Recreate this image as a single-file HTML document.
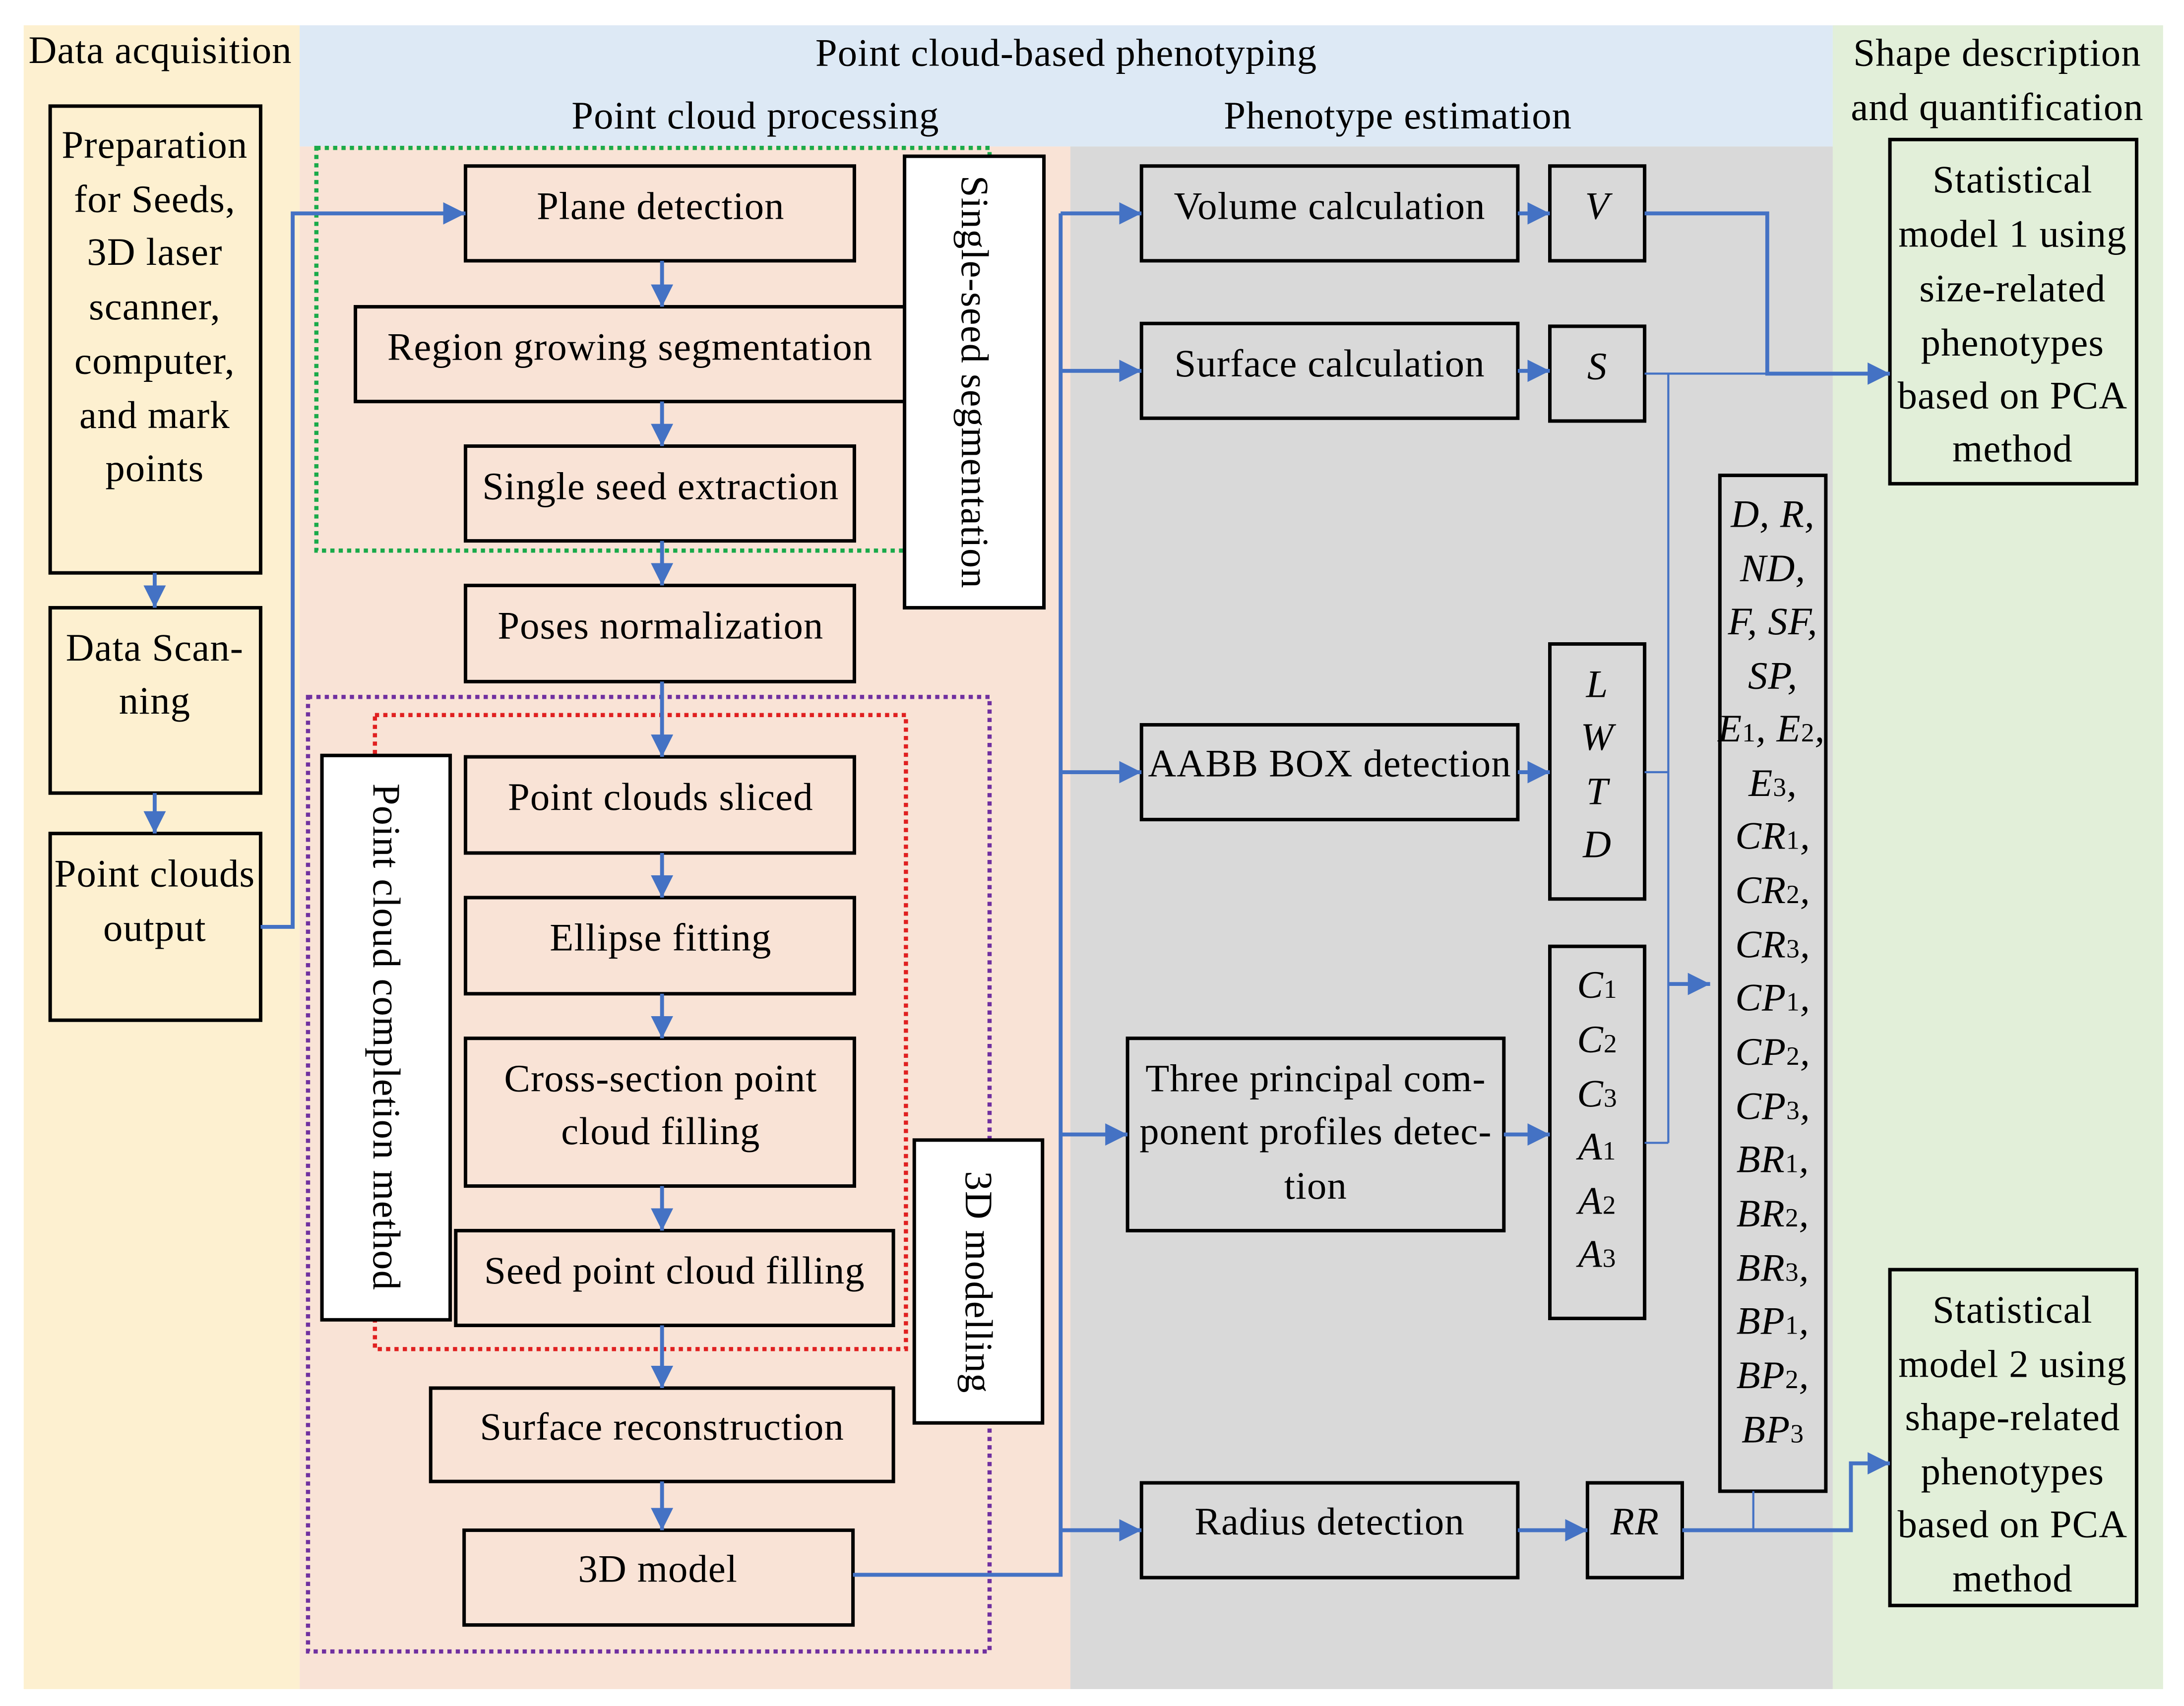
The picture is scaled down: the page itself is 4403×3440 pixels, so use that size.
<!DOCTYPE html>
<html><head><meta charset="utf-8"><style>
html,body{margin:0;padding:0;background:#fff;}
svg{display:block;}
text{font-family:"Liberation Serif",serif;font-size:28px;letter-spacing:0.4px;fill:#000;}
.i{font-style:italic;}
.s{font-style:normal;font-size:19px;}
.b{fill:none;stroke:#000;stroke-width:2.5;}
.bw{fill:#fff;stroke:#000;stroke-width:2.5;}
.l{fill:none;stroke:#4472c4;stroke-width:2.8;}
</style></head><body>
<svg width="4403" height="3440" viewBox="0 0 1567 1224" xmlns="http://www.w3.org/2000/svg">
<defs>
<marker id="m" viewBox="0 0 10 10" refX="10" refY="5" markerWidth="16" markerHeight="16" markerUnits="userSpaceOnUse" orient="auto"><path d="M0,0L10,5L0,10z" fill="#4472c4"/></marker></defs>
<rect width="1567" height="1224" fill="#fff"/>
<rect x="17" y="18" width="198" height="1194" fill="#fdf0d0"/>
<rect x="215" y="18" width="1100" height="87" fill="#dde9f5"/>
<rect x="215" y="105" width="553" height="1107" fill="#f9e3d6"/>
<rect x="768" y="105" width="547" height="1107" fill="#d9d9d9"/>
<rect x="1315" y="18" width="237" height="1194" fill="#e2efd9"/>
<g text-anchor="middle">
<text x="115" y="45">Data acquisition</text>
<text x="765" y="47">Point cloud-based phenotyping</text>
<text x="542" y="92">Point cloud processing</text>
<text x="1003" y="92">Phenotype estimation</text>
<text x="1433" y="47">Shape description</text>
<text x="1433" y="86">and quantification</text>
</g>
<rect x="227" y="106" width="483" height="289" fill="none" stroke="#1aaa4a" stroke-width="3" stroke-dasharray="3,3"/>
<rect x="221" y="500" width="489" height="685" fill="none" stroke="#7030a0" stroke-width="3" stroke-dasharray="3,3"/>
<rect x="269" y="513" width="381" height="455" fill="none" stroke="#e02020" stroke-width="3" stroke-dasharray="3,3"/>
<g>
<rect class="b" x="36" y="76" width="151" height="335"/>
<rect class="b" x="36" y="436" width="151" height="133"/>
<rect class="b" x="36" y="598" width="151" height="134"/>
<rect class="b" x="334" y="119" width="279" height="68"/>
<rect class="b" x="255" y="220" width="395" height="68"/>
<rect class="b" x="334" y="320" width="279" height="68"/>
<rect class="bw" x="649" y="112" width="100" height="324"/>
<rect class="b" x="334" y="420" width="279" height="69"/>
<rect class="bw" x="231" y="542" width="92" height="405"/>
<rect class="b" x="334" y="543" width="279" height="69"/>
<rect class="b" x="334" y="644" width="279" height="69"/>
<rect class="b" x="334" y="745" width="279" height="106"/>
<rect class="b" x="327" y="883" width="314" height="68"/>
<rect class="bw" x="656" y="818" width="92" height="203"/>
<rect class="b" x="309" y="996" width="332" height="67"/>
<rect class="b" x="333" y="1098" width="279" height="68"/>
<rect class="b" x="819" y="119" width="270" height="68"/>
<rect class="b" x="1112" y="119" width="68" height="68"/>
<rect class="b" x="819" y="232" width="270" height="68"/>
<rect class="b" x="1112" y="234" width="68" height="68"/>
<rect class="b" x="819" y="520" width="270" height="68"/>
<rect class="b" x="1112" y="462" width="68" height="183"/>
<rect class="b" x="809" y="745" width="270" height="138"/>
<rect class="b" x="1112" y="679" width="68" height="267"/>
<rect class="b" x="819" y="1064" width="270" height="68"/>
<rect class="b" x="1139" y="1064" width="68" height="68"/>
<rect class="b" x="1234" y="341" width="76" height="729"/>
<rect class="b" x="1356" y="100" width="177" height="247"/>
<rect class="b" x="1356" y="911" width="177" height="241"/>
</g>
<g text-anchor="middle">
<text x="111" y="113">Preparation</text><text x="111" y="152">for Seeds,</text><text x="111" y="190">3D laser</text><text x="111" y="229">scanner,</text><text x="111" y="268">computer,</text><text x="111" y="307">and mark</text><text x="111" y="345">points</text>
<text x="111" y="474">Data Scan-</text><text x="111" y="512">ning</text>
<text x="111" y="636">Point clouds</text><text x="111" y="675">output</text>
<text x="474" y="157">Plane detection</text>
<text x="452" y="258">Region growing segmentation</text>
<text x="474" y="358">Single seed extraction</text>
<text x="474" y="458">Poses normalization</text>
<text x="474" y="581">Point clouds sliced</text>
<text x="474" y="682">Ellipse fitting</text>
<text x="474" y="783">Cross-section point</text><text x="474" y="821">cloud filling</text>
<text x="484" y="921">Seed point cloud filling</text>
<text x="475" y="1033">Surface reconstruction</text>
<text x="472" y="1135">3D model</text>
<text transform="translate(699,274) rotate(90)" y="9">Single-seed segmentation</text>
<text transform="translate(277,744) rotate(90)" y="9">Point cloud completion method</text>
<text transform="translate(702,920) rotate(90)" y="9">3D modelling</text>
<text x="954" y="157">Volume calculation</text>
<text x="954" y="270">Surface calculation</text>
<text x="954" y="557">AABB BOX detection</text>
<text x="944" y="783">Three principal com-</text><text x="944" y="821">ponent profiles detec-</text><text x="944" y="860">tion</text>
<text x="954" y="1101">Radius detection</text>
<text x="1444" y="138">Statistical</text><text x="1444" y="177">model 1 using</text><text x="1444" y="216">size-related</text><text x="1444" y="255">phenotypes</text><text x="1444" y="293">based on PCA</text><text x="1444" y="331">method</text>
<text x="1444" y="949">Statistical</text><text x="1444" y="988">model 2 using</text><text x="1444" y="1026">shape-related</text><text x="1444" y="1065">phenotypes</text><text x="1444" y="1103">based on PCA</text><text x="1444" y="1142">method</text>
</g>
<g text-anchor="middle">
<text class="i" x="1146" y="157">V</text>
<text class="i" x="1146" y="272">S</text>
<text class="i" x="1146" y="500">L</text><text class="i" x="1146" y="538">W</text><text class="i" x="1146" y="577">T</text><text class="i" x="1146" y="615">D</text>
<text class="i" x="1146" y="716">C<tspan class="s">1</tspan></text>
<text class="i" x="1146" y="755">C<tspan class="s">2</tspan></text>
<text class="i" x="1146" y="794">C<tspan class="s">3</tspan></text>
<text class="i" x="1146" y="832">A<tspan class="s">1</tspan></text>
<text class="i" x="1146" y="871">A<tspan class="s">2</tspan></text>
<text class="i" x="1146" y="909">A<tspan class="s">3</tspan></text>
<text class="i" x="1173" y="1101">RR</text>
<text class="i" x="1272" y="378">D, R,</text>
<text class="i" x="1272" y="417">ND,</text>
<text class="i" x="1272" y="455">F, SF,</text>
<text class="i" x="1272" y="494">SP,</text>
<text class="i" x="1271" y="532" letter-spacing="0">E<tspan class="s">1</tspan>, E<tspan class="s">2</tspan>,</text>
<text class="i" x="1272" y="571">E<tspan class="s">3</tspan>,</text>
<text class="i" x="1272" y="609">CR<tspan class="s">1</tspan>,</text>
<text class="i" x="1272" y="648">CR<tspan class="s">2</tspan>,</text>
<text class="i" x="1272" y="687">CR<tspan class="s">3</tspan>,</text>
<text class="i" x="1272" y="725">CP<tspan class="s">1</tspan>,</text>
<text class="i" x="1272" y="764">CP<tspan class="s">2</tspan>,</text>
<text class="i" x="1272" y="803">CP<tspan class="s">3</tspan>,</text>
<text class="i" x="1272" y="841">BR<tspan class="s">1</tspan>,</text>
<text class="i" x="1272" y="880">BR<tspan class="s">2</tspan>,</text>
<text class="i" x="1272" y="919">BR<tspan class="s">3</tspan>,</text>
<text class="i" x="1272" y="957">BP<tspan class="s">1</tspan>,</text>
<text class="i" x="1272" y="996">BP<tspan class="s">2</tspan>,</text>
<text class="i" x="1272" y="1035">BP<tspan class="s">3</tspan></text>
</g>
<g class="l">
<path d="M111,411V436" marker-end="url(#m)"/>
<path d="M111,569V598" marker-end="url(#m)"/>
<path d="M187,665H210V153H334" marker-end="url(#m)"/>
<path d="M475,187V220" marker-end="url(#m)"/>
<path d="M475,288V320" marker-end="url(#m)"/>
<path d="M475,388V420" marker-end="url(#m)"/>
<path d="M475,489V543" marker-end="url(#m)"/>
<path d="M475,612V644" marker-end="url(#m)"/>
<path d="M475,713V745" marker-end="url(#m)"/>
<path d="M475,851V883" marker-end="url(#m)"/>
<path d="M475,951V996" marker-end="url(#m)"/>
<path d="M475,1063V1098" marker-end="url(#m)"/>
<path d="M612,1130H761V153"/>
<path d="M761,153H819" marker-end="url(#m)"/>
<path d="M761,266H819" marker-end="url(#m)"/>
<path d="M761,554H819" marker-end="url(#m)"/>
<path d="M761,814H809" marker-end="url(#m)"/>
<path d="M761,1098H819" marker-end="url(#m)"/>
<path d="M1089,153H1112" marker-end="url(#m)"/>
<path d="M1089,266H1112" marker-end="url(#m)"/>
<path d="M1089,554H1112" marker-end="url(#m)"/>
<path d="M1079,814H1112" marker-end="url(#m)"/>
<path d="M1089,1098H1139" marker-end="url(#m)"/>
<path d="M1180,153H1268V268H1356" marker-end="url(#m)"/>
<path d="M1180,268H1268" stroke-width="1.5"/>
<path d="M1197,268V820" stroke-width="1.5"/>
<path d="M1180,554H1197M1180,820H1197" stroke-width="1.5"/>
<path d="M1197,706H1227" marker-end="url(#m)"/>
<path d="M1207,1098H1328V1050H1356" marker-end="url(#m)"/>
<path d="M1258,1070V1098" stroke-width="1.5"/>
</g>
</svg>
</body></html>
